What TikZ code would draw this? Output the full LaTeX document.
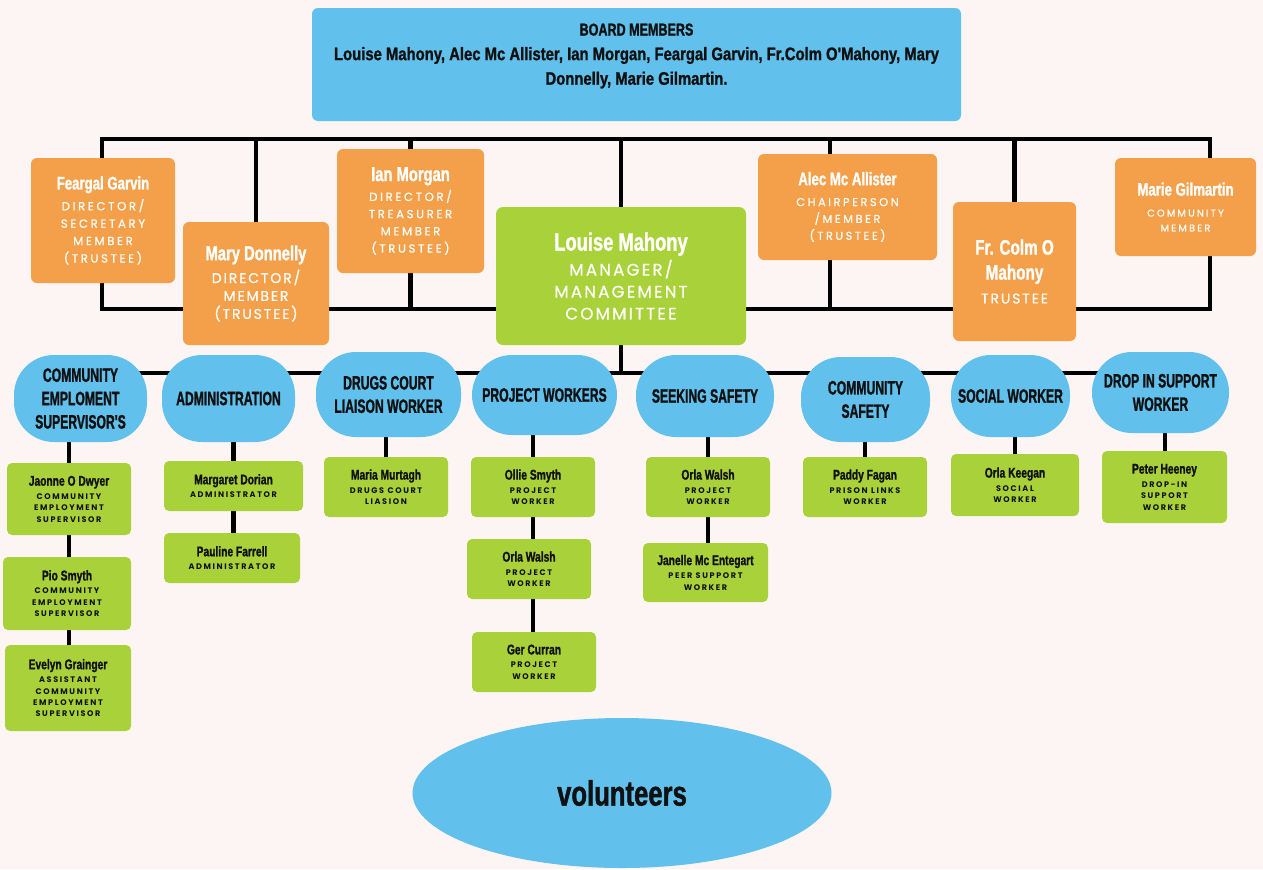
\documentclass[tikz,border=0pt]{standalone}
\usepackage{fontspec}
\setmainfont{Liberation Sans}
\newfontfamily\cnd{Liberation Sans}[FakeStretch=0.73,FakeBold=1.2]
\newfontfamily\cndw{Liberation Sans}[FakeStretch=0.82,FakeBold=1.2]
\newfontfamily\cndc{Liberation Sans}[FakeStretch=0.63,FakeBold=1.2]
\newfontfamily\spco{Poppins}[LetterSpace=22,FakeBold=0.5]
\newfontfamily\spcw{Poppins}[LetterSpace=13,FakeBold=0.5]
\newfontfamily\spcs{Poppins}[LetterSpace=20]
\usetikzlibrary{backgrounds,shapes.geometric}
\definecolor{bg}{HTML}{FDF5F3}
\definecolor{cblue}{HTML}{62C0EC}
\definecolor{corange}{HTML}{F4A04A}
\definecolor{cgreen}{HTML}{A9D23A}
\definecolor{ink}{HTML}{111111}
\newcommand\NM[2]{{\cnd\bfseries\fontsize{#1}{#1}\selectfont #2}}
\newcommand\OS[1]{{\spco #1}}
\newcommand\WS[1]{{\spcw #1}}
\newcommand\LS[1]{{\spcs\bfseries #1}}
\newcommand\bx[7]{\node[#6, minimum width={(#4-#2)*0.02cm}, minimum height={(#5-#3)*0.02cm}] (#1) at ({(#2+#4)/2},{(#3+#5)/2}) {#7};}
\begin{document}
\begin{tikzpicture}[x=0.02cm,y=-0.02cm,
  conn/.style={line width=2.7pt, draw=black},
  lconn/.style={line width=2.3pt, draw=black},
  obox/.style={fill=corange, rounded corners=0.12cm, text=white, align=center, inner sep=0pt},
  gbox/.style={fill=cgreen, rounded corners=0.14cm, text=white, align=center, inner sep=0pt},
  lbox/.style={fill=cgreen, rounded corners=0.1cm, text=ink, align=center, inner sep=0pt, font=\fontsize{4.6}{6.5}\selectfont},
  bub/.style={fill=cblue, rounded corners=0.8cm, text=ink, align=center, inner sep=0pt, font=\cndc\bfseries\fontsize{11}{13.3}\selectfont},
  bbox/.style={fill=cblue, rounded corners=0.12cm, inner sep=0pt}]
\useasboundingbox (0,0) rectangle (1263,869);

% board
\bx{board}{312}{8}{961}{121}{bbox}{}
\node[text=ink, align=center, inner sep=0pt, font=\fontsize{10.3}{14}\selectfont] (boardtxt) at (636.5,56)
  {{\cnd\bfseries\fontsize{9.8}{9.8}\selectfont BOARD MEMBERS}\\{\cndw\bfseries Louise Mahony, Alec Mc Allister, Ian Morgan, Feargal Garvin, Fr.Colm O'Mahony, Mary}\\{\cndw\bfseries Donnelly, Marie Gilmartin.}};

% directors
\bx{feargal}{31}{158}{175}{283}{obox,font=\fontsize{6.7}{9.9}\selectfont}{\NM{10.3}{Feargal Garvin}\\[2pt]\OS{DIRECTOR/}\\\OS{SECRETARY}\\\OS{MEMBER}\\\OS{(TRUSTEE)}}
\bx{mary}{183}{222}{329}{345}{obox,font=\fontsize{8}{10.2}\selectfont}{\NM{11.5}{Mary Donnelly}\\[2.8pt]\WS{DIRECTOR/}\\\WS{MEMBER}\\\WS{(TRUSTEE)}}
\bx{ian}{337}{149}{484}{273}{obox,font=\fontsize{6.7}{9.8}\selectfont}{\NM{11.5}{Ian Morgan}\\[1.5pt]\OS{DIRECTOR/}\\\OS{TREASURER}\\\OS{MEMBER}\\\OS{(TRUSTEE)}}
\bx{louise}{496}{207}{746}{345}{gbox,font=\fontsize{9.5}{12.5}\selectfont}{\NM{14.3}{Louise Mahony}\\[1.7pt]\WS{MANAGER/}\\\WS{MANAGEMENT}\\\WS{COMMITTEE}}
\bx{alec}{758}{154}{937}{260}{obox,font=\fontsize{6.5}{9.6}\selectfont}{\NM{10.3}{Alec Mc Allister}\\[2.3pt]\OS{CHAIRPERSON}\\\OS{/MEMBER}\\\OS{(TRUSTEE)}}
\bx{colm}{953}{202}{1076}{341}{obox,font=\fontsize{8}{14.2}\selectfont}{\NM{11.9}{Fr. Colm O}\\\NM{11.9}{Mahony}\\[-0.6pt]\WS{TRUSTEE}}
\bx{marie}{1115}{158}{1256}{256}{obox,font=\fontsize{5.6}{8.5}\selectfont}{\NM{10.3}{Marie Gilmartin}\\[3.4pt]\OS{COMMUNITY}\\\OS{MEMBER}}

% departments
\bx{b1}{14}{355}{147}{442}{bub}{COMMUNITY\\EMPLOMENT\\SUPERVISOR'S}
\bx{b2}{162}{355}{295}{442}{bub}{ADMINISTRATION}
\bx{b3}{316}{352}{461}{437}{bub}{DRUGS COURT\\LIAISON WORKER}
\bx{b4}{472}{355}{617}{435}{bub}{PROJECT WORKERS}
\bx{b5}{636}{355}{774}{437}{bub}{SEEKING SAFETY}
\bx{b6}{801}{357}{930}{442}{bub}{COMMUNITY\\SAFETY}
\bx{b7}{951}{355}{1070}{437}{bub}{SOCIAL WORKER}
\bx{b8}{1092}{352}{1229}{433}{bub}{DROP IN SUPPORT\\WORKER}

% staff
\bx{jaonne}{7}{463}{131}{535}{lbox}{\NM{8}{Jaonne O Dwyer}\\[1.2pt]\LS{COMMUNITY}\\\LS{EMPLOYMENT}\\\LS{SUPERVISOR}}
\bx{pio}{3}{557}{131}{630}{lbox}{\NM{8}{Pio Smyth}\\[1.2pt]\LS{COMMUNITY}\\\LS{EMPLOYMENT}\\\LS{SUPERVISOR}}
\bx{evelyn}{5}{645}{131}{731}{lbox}{\NM{8}{Evelyn Grainger}\\[1.2pt]\LS{ASSISTANT}\\\LS{COMMUNITY}\\\LS{EMPLOYMENT}\\\LS{SUPERVISOR}}
\bx{margaret}{164}{461}{303}{511}{lbox}{\NM{8}{Margaret Dorian}\\[1.2pt]\LS{ADMINISTRATOR}}
\bx{pauline}{164}{533}{300}{583}{lbox}{\NM{8}{Pauline Farrell}\\[1.2pt]\LS{ADMINISTRATOR}}
\bx{maria}{324}{457}{448}{517}{lbox}{\NM{8}{Maria Murtagh}\\[1.2pt]\LS{DRUGS COURT}\\\LS{LIASION}}
\bx{ollie}{471}{457}{595}{517}{lbox}{\NM{8}{Ollie Smyth}\\[1.2pt]\LS{PROJECT}\\\LS{WORKER}}
\bx{orlaw}{467}{539}{591}{599}{lbox}{\NM{8}{Orla Walsh}\\[1.2pt]\LS{PROJECT}\\\LS{WORKER}}
\bx{ger}{472}{632}{596}{692}{lbox}{\NM{8}{Ger Curran}\\[1.2pt]\LS{PROJECT}\\\LS{WORKER}}
\bx{orlas}{646}{457}{770}{517}{lbox}{\NM{8}{Orla Walsh}\\[1.2pt]\LS{PROJECT}\\\LS{WORKER}}
\bx{janelle}{643}{543}{768}{602}{lbox}{\NM{8}{Janelle Mc Entegart}\\[1.2pt]\LS{PEER SUPPORT}\\\LS{WORKER}}
\bx{paddy}{803}{457}{927}{517}{lbox}{\NM{8}{Paddy Fagan}\\[1.2pt]\LS{PRISON LINKS}\\\LS{WORKER}}
\bx{keegan}{951}{454}{1079}{516}{lbox}{\NM{8}{Orla Keegan}\\[1.2pt]\LS{SOCIAL}\\\LS{WORKER}}
\bx{peter}{1102}{451}{1227}{523}{lbox}{\NM{8}{Peter Heeney}\\[1.2pt]\LS{DROP-IN}\\\LS{SUPPORT}\\\LS{WORKER}}

% volunteers
\node[ellipse, fill=cblue, inner sep=0pt, minimum width={419*0.02cm}, minimum height={150*0.02cm}, text=ink] (vol) at (622,793) {\NM{20}{volunteers}};

\begin{pgfonlayer}{background}
\fill[bg] (0,0) rectangle (1263,869);
\coordinate (ftl) at (102,139);
\coordinate (fbr) at (1210,309);
\coordinate (rowy) at (0,373);
\coordinate (alecx) at (830,139);
\draw[conn] (ftl) rectangle (fbr);
\draw[conn] (mary.center |- ftl) -- (mary.center);
\draw[conn] (ian.center |- ftl) -- (ian.center |- fbr);
\draw[conn] (louise.center |- ftl) -- (louise.center |- rowy);
\draw[conn] (alecx) -- (alecx |- fbr);
\draw[conn] (colm.center |- ftl) -- (colm.center |- fbr);
\draw[conn] (b1.center |- rowy) -- (b8.center |- rowy);
\draw[lconn] (jaonne.center |- b1.center) -- (jaonne.center |- evelyn.center);
\draw[lconn] (margaret.center |- b2.center) -- (margaret.center |- pauline.center);
\draw[lconn] (maria.center |- b3.center) -- (maria.center);
\draw[lconn] (ollie.center |- b4.center) -- (ollie.center |- ger.center);
\draw[lconn] (orlas.center |- b5.center) -- (orlas.center |- janelle.center);
\draw[lconn] (paddy.center |- b6.center) -- (paddy.center);
\draw[lconn] (keegan.center |- b7.center) -- (keegan.center);
\draw[lconn] (peter.center |- b8.center) -- (peter.center);
\end{pgfonlayer}
\end{tikzpicture}
\end{document}
